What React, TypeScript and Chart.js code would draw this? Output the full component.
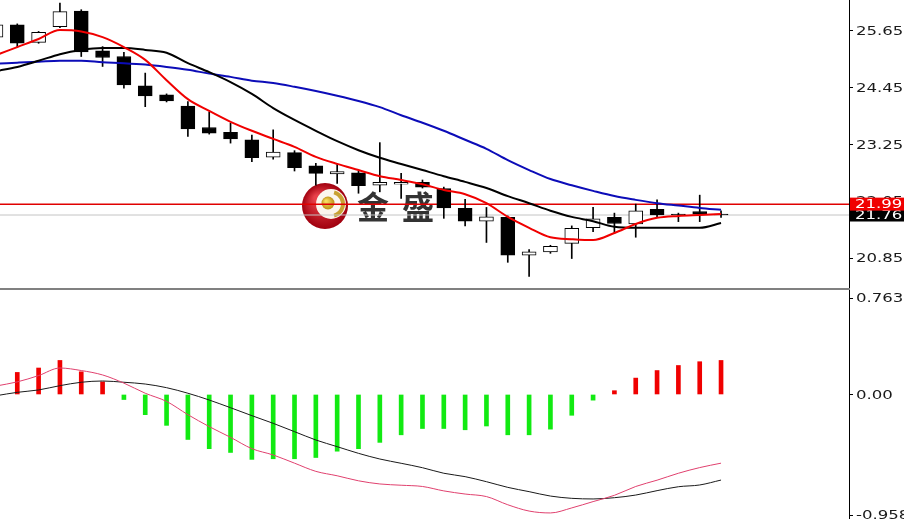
import { useEffect, useRef } from 'react';
import { Chart, registerables } from 'chart.js';

Chart.register(...registerables);

// ---- data ----
const candleIndex = [0, 1, 2, 3, 4, 5, 6, 7, 8, 9, 10, 11, 12, 13, 14, 15, 16, 17, 18, 19, 20, 21, 22, 23, 24, 25, 26, 27, 28, 29, 30, 31, 32, 33, 34];
const opens = [25.52, 25.78, 25.41, 25.74, 26.07, 25.23, 25.11, 24.49, 24.30, 24.06, 23.61, 23.51, 23.35, 22.98, 23.08, 22.80, 22.63, 22.65, 22.39, 22.41, 22.45, 22.32, 21.90, 21.63, 21.71, 20.91, 20.98, 21.16, 21.49, 21.71, 21.57, 21.88, 21.78, 21.83, 21.78];
const highs = [25.80, 25.80, 25.64, 26.24, 26.10, 25.32, 25.20, 24.76, 24.32, 24.16, 23.94, 23.70, 23.45, 23.56, 23.12, 22.85, 22.85, 22.69, 23.29, 22.64, 22.50, 22.35, 22.09, 21.92, 21.74, 21.03, 21.12, 21.53, 21.92, 21.80, 21.99, 22.08, 21.80, 22.18, 21.85];
const lows = [25.45, 25.31, 25.39, 25.72, 25.11, 24.90, 24.44, 24.05, 24.15, 23.42, 23.47, 23.28, 22.89, 22.94, 22.69, 22.39, 22.43, 22.22, 22.25, 22.11, 22.33, 21.69, 21.53, 21.18, 20.76, 20.46, 20.95, 20.84, 21.41, 21.37, 21.29, 21.71, 21.62, 21.62, 21.71];
const closes = [25.78, 25.39, 25.62, 26.06, 25.21, 25.09, 24.51, 24.28, 24.17, 23.58, 23.49, 23.37, 22.97, 23.09, 22.76, 22.64, 22.68, 22.38, 22.45, 22.45, 22.35, 21.91, 21.63, 21.72, 20.91, 20.98, 21.10, 21.48, 21.68, 21.58, 21.85, 21.76, 21.76, 21.78, 21.76];
const maFast = [25.14, 25.31, 25.48, 25.67, 25.64, 25.52, 25.31, 25.04, 24.61, 24.21, 23.96, 23.73, 23.54, 23.37, 23.20, 22.99, 22.84, 22.71, 22.58, 22.50, 22.41, 22.29, 22.20, 22.01, 21.72, 21.49, 21.29, 21.25, 21.23, 21.38, 21.57, 21.70, 21.74, 21.76, 21.78];
const maMid = [24.80, 24.89, 25.02, 25.16, 25.25, 25.29, 25.29, 25.25, 25.19, 24.97, 24.78, 24.57, 24.32, 24.02, 23.77, 23.54, 23.32, 23.13, 22.97, 22.84, 22.71, 22.58, 22.46, 22.33, 22.16, 22.01, 21.85, 21.72, 21.63, 21.51, 21.49, 21.49, 21.49, 21.49, 21.59];
const maSlow = [24.96, 24.98, 25.00, 25.02, 25.02, 24.99, 24.97, 24.94, 24.89, 24.83, 24.75, 24.68, 24.60, 24.55, 24.47, 24.38, 24.28, 24.17, 24.04, 23.87, 23.71, 23.54, 23.35, 23.16, 22.92, 22.71, 22.52, 22.39, 22.27, 22.16, 22.08, 22.01, 21.96, 21.91, 21.87];
const macdHist = [null, 0.175, 0.21, 0.27, 0.18, 0.10, -0.04, -0.16, -0.245, -0.357, -0.43, -0.46, -0.515, -0.51, -0.51, -0.50, -0.45, -0.43, -0.38, -0.32, -0.27, -0.27, -0.28, -0.25, -0.32, -0.32, -0.275, -0.165, -0.045, 0.03, 0.13, 0.19, 0.23, 0.26, 0.27];
const macdFast = [0.067, 0.10, 0.15, 0.21, 0.19, 0.155, 0.09, 0.01, -0.055, -0.16, -0.255, -0.34, -0.43, -0.48, -0.545, -0.61, -0.645, -0.685, -0.71, -0.72, -0.73, -0.765, -0.79, -0.81, -0.875, -0.925, -0.94, -0.90, -0.85, -0.80, -0.73, -0.68, -0.625, -0.58, -0.545];
const macdSlow = [-0.01, 0.017, 0.036, 0.07, 0.097, 0.107, 0.097, 0.083, 0.054, 0.01, -0.044, -0.105, -0.168, -0.229, -0.295, -0.361, -0.414, -0.467, -0.512, -0.546, -0.581, -0.625, -0.652, -0.692, -0.737, -0.771, -0.806, -0.824, -0.829, -0.819, -0.798, -0.763, -0.732, -0.718, -0.679];
const priceTicks = [20.85, 22.05, 23.25, 24.45, 25.65];
const priceTickLabels = ['20.85', '22.05', '23.25', '24.45', '25.65'];
const macdTicks = [-0.958, 0, 0.763];
const macdTickLabels = ['-0.958', '0.00', '0.763'];
const bidPrice = 21.99;
const lastPrice = 21.76;
const bidLabel = '21.99';
const lastLabel = '21.76';
const watermarkText = ['金', '盛'];

// ---- view ranges ----
const X_MIN = 0.19;
const X_MAX = 40;
const PRICE_MIN = 20.217;
const PRICE_MAX = 26.305;
const MACD_MIN = -0.988;
const MACD_MAX = 0.829;
const AXIS_W = 55;

const pts = (values: (number | null)[]) => candleIndex.map((x, k) => ({ x, y: values[k] }));

function drawAxisText(ctx: CanvasRenderingContext2D, text: string, x: number, y: number, color: string) {
  ctx.save();
  ctx.translate(x, y + 1);
  ctx.scale(1.38, 1);
  ctx.fillStyle = color;
  ctx.font = '12px "DejaVu Sans", Verdana, sans-serif';
  ctx.textBaseline = 'middle';
  ctx.textAlign = 'left';
  ctx.fillText(text, 0, 0);
  ctx.restore();
}

const axisLabelPlugin = {
  id: 'axisLabels',
  afterDraw(chart: any, _a: any, opts: any) {
    const scale = chart.scales.y;
    const ctx = chart.ctx as CanvasRenderingContext2D;
    const labels: string[] = opts.labels || [];
    scale.ticks.forEach((t: any, k: number) => {
      drawAxisText(ctx, labels[k], scale.left + 7, scale.getPixelForValue(t.value), '#1a1a1a');
    });
    (opts.markers || []).forEach((m: any) => {
      const y = scale.getPixelForValue(m.value);
      ctx.save();
      ctx.fillStyle = m.bg;
      ctx.fillRect(scale.left + 1, y - 6.5, scale.width, 13);
      ctx.restore();
      drawAxisText(ctx, m.text, scale.left + 6, y, '#ffffff');
    });
  },
};

const watermarkPlugin = {
  id: 'watermark',
  beforeDatasetsDraw(chart: any) {
    const ctx = chart.ctx as CanvasRenderingContext2D;
    ctx.save();
    const cx = 325, cy = 206, r = 23;
    const g = ctx.createRadialGradient(cx - 8, cy - 8, 3, cx, cy, r);
    g.addColorStop(0, '#e8404a');
    g.addColorStop(1, '#a0000e');
    ctx.fillStyle = g;
    ctx.beginPath();
    ctx.arc(cx, cy, r, 0, Math.PI * 2);
    ctx.fill();
    ctx.fillStyle = '#fbf6ee';
    ctx.beginPath();
    ctx.arc(cx + 6, cy - 2, 15, 0, Math.PI * 2);
    ctx.fill();
    ctx.strokeStyle = '#c9a233';
    ctx.lineWidth = 4;
    ctx.beginPath();
    ctx.arc(cx + 6, cy - 2, 12, -Math.PI / 2.4, Math.PI / 2.4);
    ctx.stroke();
    const g2 = ctx.createRadialGradient(cx + 1, cy - 5, 1, cx + 3, cy - 3, 7);
    g2.addColorStop(0, '#f6dc60');
    g2.addColorStop(1, '#b88a10');
    ctx.fillStyle = g2;
    ctx.beginPath();
    ctx.arc(cx + 3, cy - 3, 6.5, 0, Math.PI * 2);
    ctx.fill();
    ctx.fillStyle = '#333333';
    ctx.font = 'bold 32px "Noto Sans CJK SC", sans-serif';
    ctx.textAlign = 'center';
    ctx.textBaseline = 'middle';
    ctx.fillText(watermarkText[0], 373, 207);
    ctx.fillText(watermarkText[1], 418, 207);
    ctx.restore();
  },
};

function yAxis(min: number, max: number, ticks: number[]) {
  return {
    position: 'right' as const,
    min,
    max,
    afterBuildTicks: (s: any) => {
      s.ticks = ticks.map((value) => ({ value }));
    },
    afterFit: (s: any) => {
      s.width = AXIS_W;
    },
    ticks: { display: false },
    grid: { drawOnChartArea: false, drawTicks: true, tickLength: 4, color: '#000', lineWidth: 1 },
    border: { display: true, color: '#000', width: 1 },
  };
}

const xAxis = { type: 'linear' as const, min: X_MIN, max: X_MAX, display: false, offset: false };

const smoothLine = (values: (number | null)[], color: string, width: number, order: number) =>
  ({
    type: 'line',
    data: pts(values),
    borderColor: color,
    borderWidth: width,
    pointRadius: 0,
    cubicInterpolationMode: 'monotone',
    order,
  }) as any;

export default function App() {
  const topRef = useRef<HTMLCanvasElement>(null);
  const botRef = useRef<HTMLCanvasElement>(null);

  useEffect(() => {
    const top = new Chart(topRef.current as HTMLCanvasElement, {
      type: 'bar',
      data: {
        datasets: [
          {
            type: 'line',
            data: [{ x: X_MIN, y: lastPrice }, { x: X_MAX, y: lastPrice }],
            borderColor: '#c4c4c4',
            borderWidth: 1,
            pointRadius: 0,
            order: 6,
          } as any,
          {
            type: 'line',
            data: [{ x: X_MIN, y: bidPrice }, { x: X_MAX, y: bidPrice }],
            borderColor: '#e00000',
            borderWidth: 1.5,
            pointRadius: 0,
            order: 5,
          } as any,
          {
            type: 'bar',
            data: candleIndex.map((x, k) => ({ x, y: [lows[k], highs[k]] })),
            backgroundColor: '#000',
            borderWidth: 0,
            barThickness: 1,
            grouped: false,
            order: 4,
          } as any,
          {
            type: 'bar',
            data: candleIndex.map((x, k) => ({ x, y: [opens[k], closes[k]] })),
            backgroundColor: candleIndex.map((_, k) => (closes[k] >= opens[k] ? '#ffffff' : '#000000')),
            borderColor: '#000',
            borderWidth: 1,
            borderSkipped: false,
            barThickness: 14,
            grouped: false,
            order: 3,
          } as any,
          smoothLine(maSlow, '#0c0cb8', 2, 2),
          smoothLine(maMid, '#000000', 2, 1),
          smoothLine(maFast, '#f00000', 2, 0),
        ],
      },
      options: {
        animation: false,
        responsive: false,
        maintainAspectRatio: false,
        layout: { padding: 0 },
        plugins: {
          legend: { display: false },
          tooltip: { enabled: false },
          axisLabels: {
            labels: priceTickLabels,
            markers: [
              { value: lastPrice, text: lastLabel, bg: '#000000' },
              { value: bidPrice, text: bidLabel, bg: '#f00000' },
            ],
          },
        } as any,
        scales: { x: xAxis, y: yAxis(PRICE_MIN, PRICE_MAX, priceTicks) } as any,
      },
      plugins: [watermarkPlugin, axisLabelPlugin],
    });

    const bot = new Chart(botRef.current as HTMLCanvasElement, {
      type: 'bar',
      data: {
        datasets: [
          {
            type: 'bar',
            data: pts(macdHist),
            backgroundColor: macdHist.map((v) => ((v ?? 0) >= 0 ? '#f00000' : '#12ea12')),
            borderWidth: 0,
            barThickness: 4,
            grouped: false,
            order: 2,
          } as any,
          smoothLine(macdSlow, '#1a1a1a', 1, 1),
          smoothLine(macdFast, '#e0406e', 1, 0),
        ],
      },
      options: {
        animation: false,
        responsive: false,
        maintainAspectRatio: false,
        layout: { padding: 0 },
        plugins: {
          legend: { display: false },
          tooltip: { enabled: false },
          axisLabels: { labels: macdTickLabels, markers: [] },
        } as any,
        scales: { x: xAxis, y: yAxis(MACD_MIN, MACD_MAX, macdTicks) } as any,
      },
      plugins: [axisLabelPlugin],
    });

    return () => {
      top.destroy();
      bot.destroy();
    };
  }, []);

  return (
    <div style={{ position: 'fixed', left: 0, top: 0, width: 904, height: 519, background: '#fff', overflow: 'hidden' }}>
      <canvas ref={topRef} width={904} height={288} style={{ position: 'absolute', left: 0, top: 0 }} />
      <div style={{ position: 'absolute', left: 0, top: 288, width: 850, height: 2, background: '#808080' }} />
      <canvas ref={botRef} width={904} height={229} style={{ position: 'absolute', left: 0, top: 290 }} />
    </div>
  );
}
